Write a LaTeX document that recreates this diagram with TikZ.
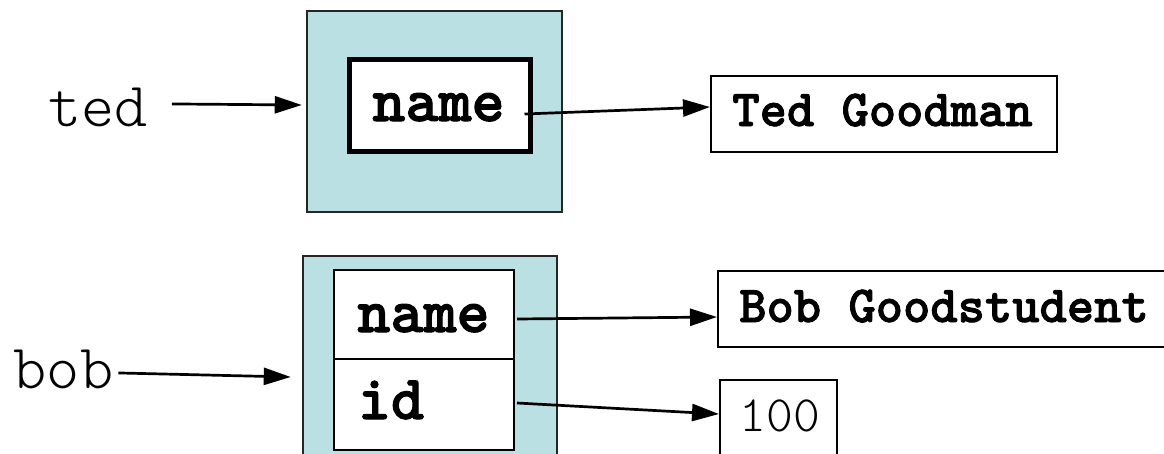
\documentclass[tikz,border=0pt]{standalone}
\usepackage{fontspec}
\newfontfamily\fieldfont{lmmonolt10-bold.otf}[FakeBold=1.6]
\newfontfamily\namefont{lmmonolt10-regular.otf}
\usetikzlibrary{arrows.meta}
\definecolor{objfill}{RGB}{186,224,227}
\begin{document}
\begin{tikzpicture}[x=1pt,y=-1pt,
  obj/.style={draw=black!85, line width=2.5pt, fill=objfill, inner sep=0pt},
  cell/.style={draw=black, line width=2pt, fill=white, inner sep=0pt},
  valbox/.style={draw=black, line width=2pt, fill=white, inner sep=0pt},
  varname/.style={font=\namefont\fontsize{63}{66}\selectfont, inner sep=0pt, anchor=base},
  field/.style={font=\fieldfont\fontsize{63}{66}\selectfont, inner sep=0pt, anchor=base},
  value/.style={font=\fieldfont\fontsize{52}{56}\selectfont, inner sep=0pt, anchor=base},
  plainvalue/.style={font=\namefont\fontsize{51}{55}\selectfont, inner sep=0pt, anchor=base},
  ref/.style={line width=2.7pt, -{Triangle[length=27pt,width=17pt]}}]
\useasboundingbox (0,0) rectangle (1164,453);
\clip (0,0) rectangle (1164,453);

% object referenced by ted
\node[obj, minimum width=255pt, minimum height=201pt] (tedobj) at (434.5,111.5) {};
\node[cell, line width=5pt, minimum width=181pt, minimum height=92pt] (tedname) at (439.5,105) {};
\node[field] (tednameT) at (438.5,121) {name};
\node[varname] (ted) at (98,126) {ted};
\node[valbox, minimum width=346pt, minimum height=76pt] (tedgood) at (884,114) {};
\node[value] (tedgoodT) at (882.5,126) {Ted Goodman};

% object referenced by bob
\node[obj, minimum width=254pt, minimum height=214pt] (bobobj) at (430,363) {};
\node[cell, minimum width=180pt, minimum height=89pt] (bobname) at (424,314.5) {};
\node[cell, minimum width=180pt, minimum height=91pt] (bobid) at (424,404.5) {};
\node[field] (bobnameT) at (423.5,332) {name};
\node[field] (bobidT) at (391,419) {id};
\node[varname] (bob) at (63.5,388) {bob};
\node[valbox, minimum width=452pt, minimum height=76pt] (bobgood) at (944,309) {};
\node[value] (bobgoodT) at (944,322) {Bob Goodstudent};
\node[valbox, minimum width=117pt, minimum height=77pt] (hundred) at (778.5,418.5) {};
\node[plainvalue] (hundredT) at (780,431) {100};

% references
\draw[ref] ([xshift=24pt,yshift=3pt]ted.east) -- ([xshift=-4pt,yshift=6.5pt]tedobj.west);
\draw[ref] ([xshift=-8pt,yshift=-9pt]tedname.east) -- ([yshift=7pt]tedgood.west);
\draw[ref] ([xshift=5pt,yshift=-4pt]bob.east) -- ([xshift=-11pt,yshift=-14pt]bobobj.west);
\draw[ref] ([xshift=2pt,yshift=-4.5pt]bobname.east) -- ([yshift=-8pt]bobgood.west);
\draw[ref] ([xshift=2pt,yshift=1.5pt]bobid.east) -- ([yshift=4.5pt]hundred.west);
\end{tikzpicture}
\end{document}
